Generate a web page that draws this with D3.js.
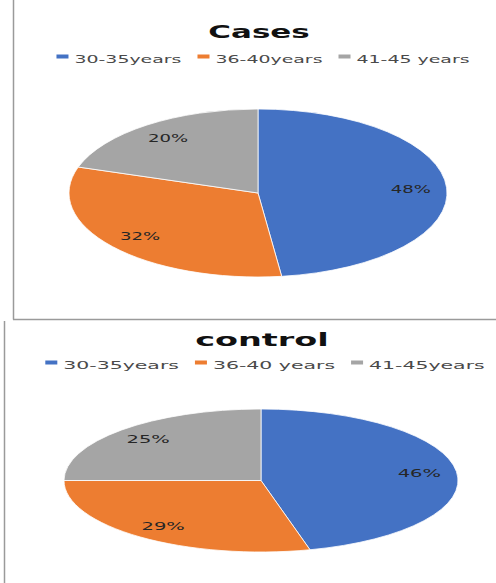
<!DOCTYPE html>
<html>
<head>
<meta charset="utf-8">
<script src="https://cdn.jsdelivr.net/npm/d3@7"></script>
<style>
  html, body { margin: 0; padding: 0; background: #fff; }
  svg { display: block; }
  text { font-family: "DejaVu Sans", Verdana, sans-serif; }
</style>
</head>
<body>
<svg id="chart" width="496" height="583"></svg>
<script>
// Age-group shares for the two study groups
const casesCategories = ["30-35years", "36-40years", "41-45 years"];
const casesValues = [48, 32, 20];
const controlCategories = ["30-35years", "36-40 years", "41-45years"];
const controlValues = [46, 29, 25];
const sliceColors = ["#4472C4", "#ED7D31", "#A5A5A5"];

const svg = d3.select("#chart");

// panel frames
svg.append("line").attr("x1", 13.5).attr("x2", 13.5).attr("y1", 0).attr("y2", 319.5)
  .attr("stroke", "#9a9a9a").attr("stroke-width", 1.5);
svg.append("line").attr("x1", 13).attr("x2", 496).attr("y1", 319.5).attr("y2", 319.5)
  .attr("stroke", "#9a9a9a").attr("stroke-width", 1.5);
svg.append("line").attr("x1", 4.5).attr("x2", 4.5).attr("y1", 321).attr("y2", 583)
  .attr("stroke", "#9a9a9a").attr("stroke-width", 1.5);

function drawPanel(cfg) {
  const g = svg.append("g");
  const SX = cfg.sx; // wide lettering

  // title
  g.append("text")
    .attr("transform", `translate(${cfg.titleX},${cfg.titleY}) scale(${SX},1)`)
    .attr("text-anchor", "middle")
    .attr("font-size", 18).attr("font-weight", "bold").attr("fill", "#111")
    .text(cfg.title);

  // legend, laid out from measured label widths and centred
  const leg = g.append("g");
  let x = 0;
  cfg.categories.forEach((c, i) => {
    leg.append("rect").attr("x", x).attr("y", cfg.legendY - 8.5)
      .attr("width", 12).attr("height", 4).attr("fill", sliceColors[i]);
    const t = leg.append("text")
      .attr("transform", `translate(${x + 18},${cfg.legendY}) scale(${SX},1)`)
      .attr("font-size", 11).attr("fill", "#4a4a4a")
      .text(c);
    const w = t.node().getComputedTextLength() * SX;
    x += 18 + w + 16;
  });
  const legW = x - 16;
  leg.attr("transform", `translate(${cfg.legendCX - legW / 2},0)`);

  // pie drawn on a circle and squashed into an ellipse
  const pie = d3.pie().sort(null).value(d => d);
  const arcs = pie(cfg.values);
  const arc = d3.arc().innerRadius(0).outerRadius(cfg.rx);
  const k = cfg.ry / cfg.rx;
  const pg = g.append("g").attr("transform", `translate(${cfg.cx},${cfg.cy}) scale(1,${k})`);
  pg.selectAll("path").data(arcs).join("path")
    .attr("d", arc)
    .attr("fill", (d, i) => sliceColors[i])
    .attr("stroke", "#fff").attr("stroke-width", 0.8)
    .attr("vector-effect", "non-scaling-stroke");

  const labelArc = d3.arc().innerRadius(cfg.rx * 0.81).outerRadius(cfg.rx * 0.81);
  g.selectAll("text.lbl").data(arcs).join("text")
    .attr("class", "lbl")
    .attr("transform", d => {
      const [lx, ly] = labelArc.centroid(d);
      return `translate(${cfg.cx + lx},${cfg.cy + ly * k}) scale(${SX},1)`;
    })
    .attr("text-anchor", "middle").attr("dominant-baseline", "central")
    .attr("font-size", 10.5).attr("fill", "#262626")
    .text(d => d.data + "%");
}

drawPanel({
  title: "Cases", titleX: 259, titleY: 38, sx: 1.72,
  categories: casesCategories, values: casesValues,
  legendCX: 263, legendY: 63,
  cx: 258, cy: 193, rx: 189, ry: 84
});

drawPanel({
  title: "control", titleX: 262, titleY: 346, sx: 1.86,
  categories: controlCategories, values: controlValues,
  legendCX: 265, legendY: 369,
  cx: 261, cy: 480.5, rx: 197, ry: 71.5
});
</script>
</body>
</html>
